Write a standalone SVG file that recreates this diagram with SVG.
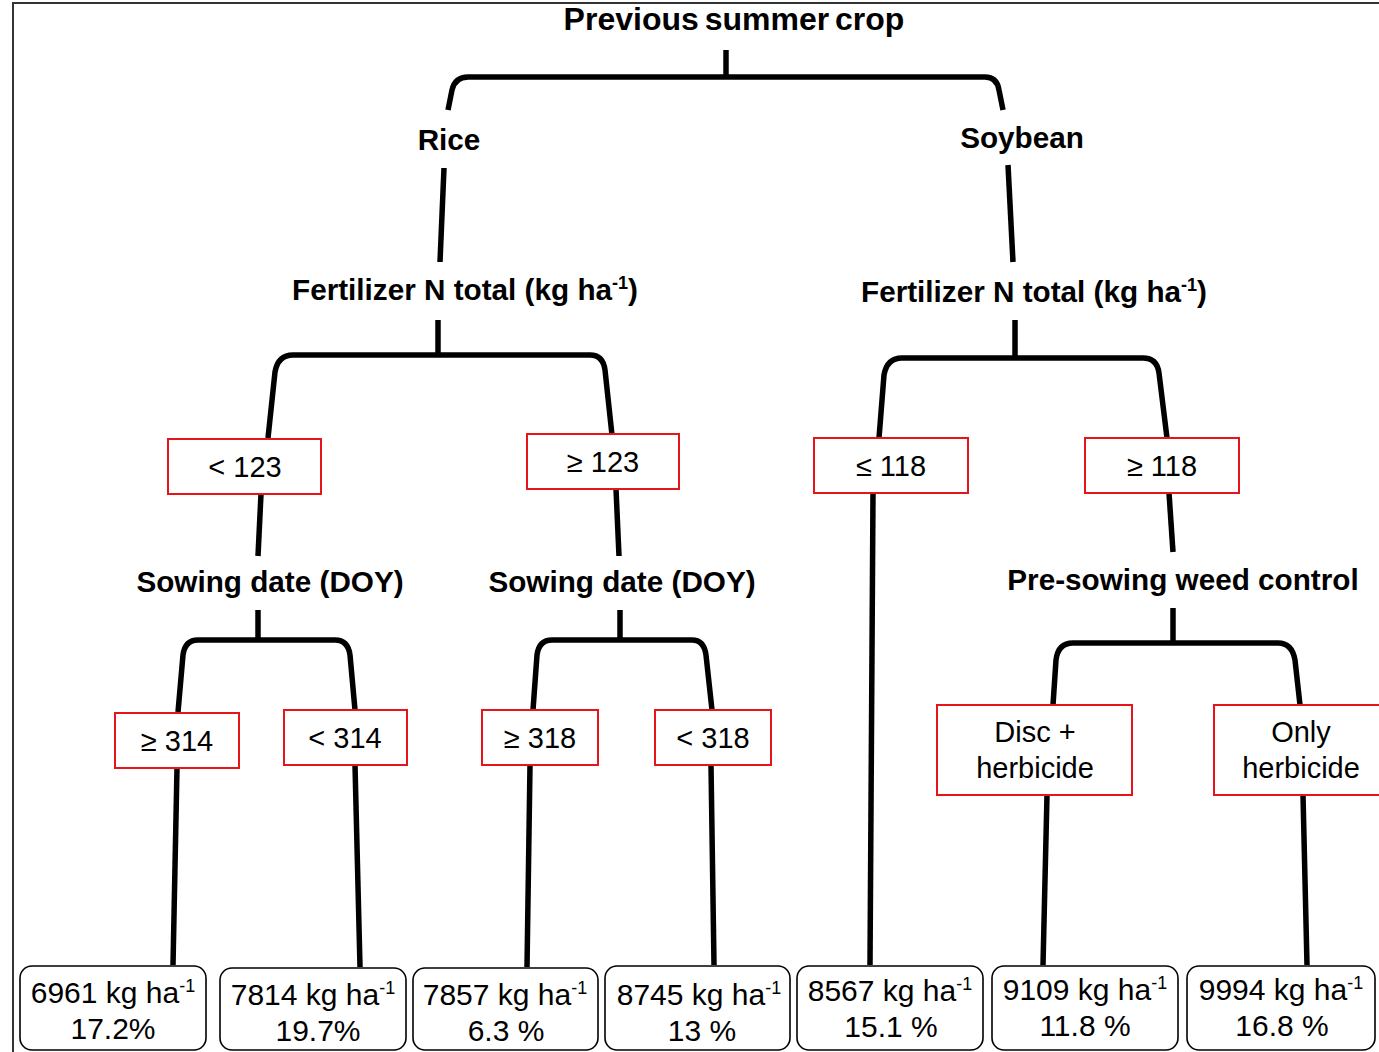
<svg xmlns="http://www.w3.org/2000/svg" width="1379" height="1052" viewBox="0 0 1379 1052">
<style>
.b{font-family:"Liberation Sans",Arial,sans-serif;font-weight:bold;font-size:29.7px;fill:#000;text-anchor:middle}
.t{font-family:"Liberation Sans",Arial,sans-serif;font-size:29px;fill:#000;text-anchor:middle}
.v{font-family:"Liberation Sans",Arial,sans-serif;font-size:30px;fill:#000;text-anchor:middle}
.sup{font-size:18px}
.red{fill:#fff;stroke:#e8141c;stroke-width:2}
.leaf{fill:#fff;stroke:#000;stroke-width:1.6}
.c{fill:none;stroke:#000;stroke-width:5.5;stroke-linecap:butt;stroke-linejoin:round}
</style>
<rect x="0" y="0" width="1379" height="1052" fill="#fff"/>
<path d="M13,1052 V3 H1379" fill="none" stroke="#333" stroke-width="2"/>
<g id="connectors">
<path class="c" d="M726,50 V77"/>
<path class="c" d="M448,110 L452,90 Q455,77 468,77 L985,77 Q997,77 999,90 L1003,110"/>
<path class="c" d="M444,168 L440,262"/>
<path class="c" d="M1008,165 L1013,262"/>
<path class="c" d="M438,320 V355"/>
<path class="c" d="M268,438 L275,372 Q278,355 293,355 L590,355 Q603,355 605,370 L612,435"/>
<path class="c" d="M1015,320 V358"/>
<path class="c" d="M879,438 L884,375 Q887,358 902,358 L1143,358 Q1157,358 1159,373 L1167,438"/>
<path class="c" d="M261,494 L258,556"/>
<path class="c" d="M616,489 L619,556"/>
<path class="c" d="M873,493 L870,965"/>
<path class="c" d="M1169,493 L1173,552"/>
<path class="c" d="M258,610 V640"/>
<path class="c" d="M178,712 L183,655 Q185,640 198,640 L335,640 Q348,640 350,655 L355,710"/>
<path class="c" d="M620,610 V640"/>
<path class="c" d="M533,710 L537,655 Q539,640 552,640 L692,640 Q704,640 706,655 L712,710"/>
<path class="c" d="M1173,608 V643"/>
<path class="c" d="M1053,705 L1056,660 Q1058,643 1073,643 L1278,643 Q1292,643 1295,660 L1300,705"/>
<path class="c" d="M177,768 L173,965"/>
<path class="c" d="M355,765 L360,967"/>
<path class="c" d="M530,765 L527,967"/>
<path class="c" d="M711,765 L714,965"/>
<path class="c" d="M1047,795 L1043,965"/>
<path class="c" d="M1303,795 L1307,965"/>
</g>
<g id="root"><text class="b" x="734" y="30" style="font-size:32px" word-spacing="-3">Previous summer crop</text></g>
<g id="rice"><text class="b" x="449" y="150">Rice</text></g>
<g id="soybean"><text class="b" x="1022" y="148">Soybean</text></g>
<g id="fert-left"><text class="b" x="465" y="300">Fertilizer N total (kg ha<tspan class="sup" dy="-11">-1</tspan><tspan dy="11">)</tspan></text></g>
<g id="fert-right"><text class="b" x="1034" y="302">Fertilizer N total (kg ha<tspan class="sup" dy="-11">-1</tspan><tspan dy="11">)</tspan></text></g>
<g id="lt123"><rect class="red" x="168" y="439" width="153" height="55"/><text class="t" x="245" y="477">&lt; 123</text></g>
<g id="ge123"><rect class="red" x="527" y="434" width="152" height="55"/><text class="t" x="603" y="472">≥ 123</text></g>
<g id="le118"><rect class="red" x="814" y="438" width="154" height="55"/><text class="t" x="891" y="476">≤ 118</text></g>
<g id="ge118"><rect class="red" x="1085" y="438" width="154" height="55"/><text class="t" x="1162" y="476">≥ 118</text></g>
<g id="sow-left"><text class="b" x="270" y="592">Sowing date (DOY)</text></g>
<g id="sow-right"><text class="b" x="622" y="592">Sowing date (DOY)</text></g>
<g id="weed"><text class="b" x="1183" y="590">Pre-sowing weed control</text></g>
<g id="ge314"><rect class="red" x="115" y="713" width="124" height="55"/><text class="t" x="177" y="751">≥ 314</text></g>
<g id="lt314"><rect class="red" x="284" y="710" width="123" height="55"/><text class="t" x="345" y="748">&lt; 314</text></g>
<g id="ge318"><rect class="red" x="482" y="710" width="116" height="55"/><text class="t" x="540" y="748">≥ 318</text></g>
<g id="lt318"><rect class="red" x="655" y="710" width="116" height="55"/><text class="t" x="713" y="748">&lt; 318</text></g>
<g id="disc"><rect class="red" x="937" y="705" width="195" height="90"/><text class="t" x="1035" y="742">Disc +</text><text class="t" x="1035" y="778">herbicide</text></g>
<g id="only"><rect class="red" x="1214" y="705" width="175" height="90"/><text class="t" x="1301" y="742">Only</text><text class="t" x="1301" y="778">herbicide</text></g>
<g id="leaf1"><rect class="leaf" x="20" y="966" width="186" height="84" rx="12"/><text class="v" x="113" y="1003">6961 kg ha<tspan class="sup" dy="-11">-1</tspan></text><text class="v" x="113" y="1039">17.2%</text></g>
<g id="leaf2"><rect class="leaf" x="220" y="968" width="186" height="82" rx="12"/><text class="v" x="313" y="1005">7814 kg ha<tspan class="sup" dy="-11">-1</tspan></text><text class="v" x="318" y="1041">19.7%</text></g>
<g id="leaf3"><rect class="leaf" x="413" y="968" width="185" height="82" rx="12"/><text class="v" x="505" y="1005">7857 kg ha<tspan class="sup" dy="-11">-1</tspan></text><text class="v" x="506" y="1041">6.3 %</text></g>
<g id="leaf4"><rect class="leaf" x="605" y="966" width="185" height="84" rx="12"/><text class="v" x="699" y="1005">8745 kg ha<tspan class="sup" dy="-11">-1</tspan></text><text class="v" x="702" y="1041">13 %</text></g>
<g id="leaf5"><rect class="leaf" x="797" y="966" width="186" height="84" rx="12"/><text class="v" x="890" y="1001">8567 kg ha<tspan class="sup" dy="-11">-1</tspan></text><text class="v" x="891" y="1037">15.1 %</text></g>
<g id="leaf6"><rect class="leaf" x="992" y="966" width="186" height="84" rx="12"/><text class="v" x="1085" y="1000">9109 kg ha<tspan class="sup" dy="-11">-1</tspan></text><text class="v" x="1085" y="1036">11.8 %</text></g>
<g id="leaf7"><rect class="leaf" x="1187" y="966" width="188" height="84" rx="12"/><text class="v" x="1281" y="1000">9994 kg ha<tspan class="sup" dy="-11">-1</tspan></text><text class="v" x="1282" y="1036">16.8 %</text></g>
</svg>
